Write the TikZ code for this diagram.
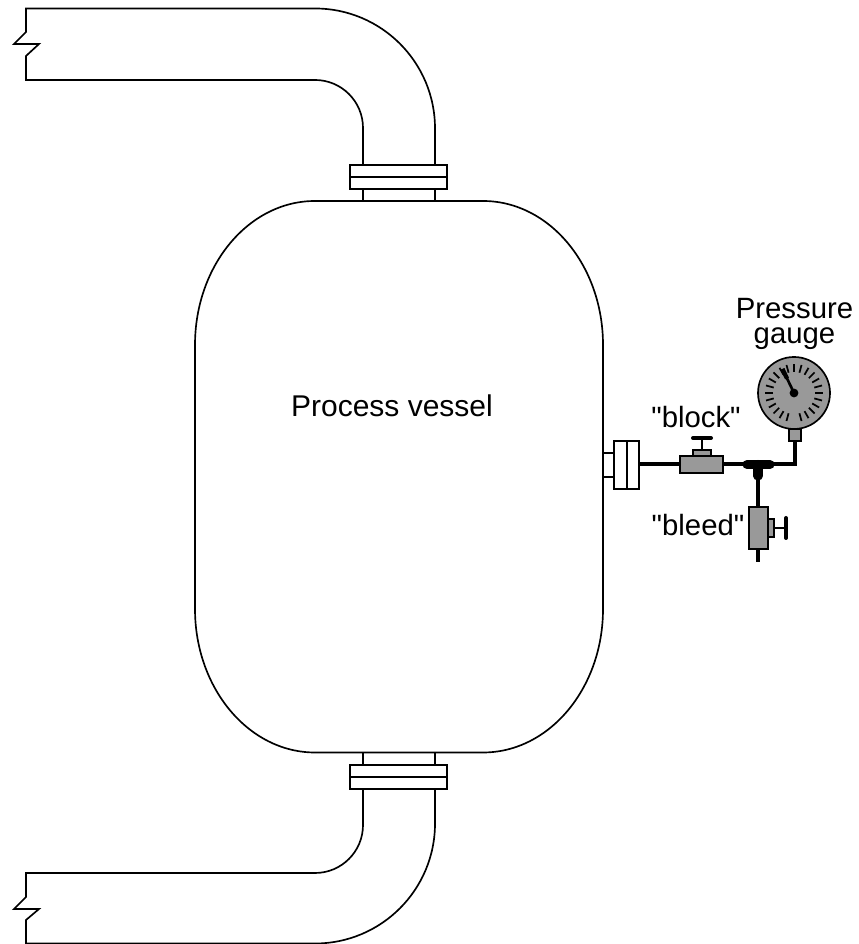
\documentclass[tikz,border=0pt]{standalone}
\usepackage{fontspec}
\newfontfamily\labelfont{Liberation Sans}
\tikzset{
  pipeline/.style={black,line width=1.25pt,line join=miter},
  tubing/.style={black,line width=3pt},
  valvepart/.style={draw=black,fill=black!40,line width=1.25pt},
  label/.style={font=\labelfont\fontsize{22}{18.75}\selectfont,inner sep=0pt},
}
\begin{document}
\begin{tikzpicture}[x=0.75pt,y=0.75pt]
      \useasboundingbox (0,0) rectangle (858,944);
      % vessel
      \draw[pipeline] (315,743)--(483,743) arc[start angle=90,end angle=0,x radius=120,y radius=144]
        --(603,335) arc[start angle=0,end angle=-90,x radius=120,y radius=143.5]
        --(315,191.5) arc[start angle=-90,end angle=-180,x radius=120,y radius=143.5]
        --(195,599) arc[start angle=180,end angle=90,x radius=120,y radius=144];
      % top pipe
      \draw[pipeline] (435,743)--(435,755);
      \draw[pipeline] (363,743)--(363,755);
      \draw[pipeline] (350,755) rectangle (447,779);
      \draw[pipeline,line width=1.8pt] (350,767)--(447,767);
      \draw[pipeline] (435,779)--(435,815.5) arc[start angle=0,end angle=90,radius=120]
        --(26,935.5)--(26,912)--(14,900)--(39,900)--(26,888)--(26,864)--(315,864)
        arc[start angle=90,end angle=0,radius=48]--(363,779);
      % bottom pipe
      \draw[pipeline] (435,191.5)--(435,179);
      \draw[pipeline] (363,191.5)--(363,179);
      \draw[pipeline] (350,155) rectangle (447,179);
      \draw[pipeline,line width=1.8pt] (350,167)--(447,167);
      \draw[pipeline] (435,155)--(435,120.5) arc[start angle=0,end angle=-90,radius=120]
        --(26,0.5)--(26,24)--(39,35)--(14,35)--(26,47)--(26,71)--(315,71)
        arc[start angle=-90,end angle=0,radius=48]--(363,155);
      % nozzle
      \draw[pipeline] (603,491)--(614,491);
      \draw[pipeline] (603,467)--(614,467);
      \draw[pipeline] (614,455) rectangle (639,503);
      \draw[pipeline] (627,455)--(627,503);
      % tubing
      \draw[tubing] (639,479.5)--(680,479.5);
      \draw[tubing] (723,479.5)--(745,479.5);
      \draw[tubing,line join=miter] (772,479.5)--(795,479.5)--(795,503);
      \draw[tubing] (758,466)--(758,437);
      \draw[tubing] (758,395)--(758,382);
      % tee
      \draw[black,line width=6.8pt,line cap=round] (747,479.5)--(770,479.5);
      \draw[black,line width=6.8pt,line cap=round] (758,479.5)--(758,468);
      % block valve
      \draw[valvepart] (680,471) rectangle (723,488);
      \draw[valvepart] (693,488) rectangle (711,494);
      \draw[black,line width=1.6pt] (702,494)--(702,506);
      \draw[tubing,line cap=round] (693,506)--(711,506);
      % bleed valve
      \draw[valvepart] (749,395) rectangle (768,437);
      \draw[valvepart] (768,407) rectangle (774,425);
      \draw[black,line width=1.6pt] (774,416)--(786,416);
      \draw[tubing,line cap=round] (786,406)--(786,426);
      % gauge
      \draw[valvepart] (794,551) circle (36);
      \draw[valvepart] (789,503) rectangle (801,515);
      \foreach \a in {-75,-60,...,255}
        \draw[black,line width=1.3pt] (794,551)++(\a:21)--++(\a:8);
      \draw[black,line width=2pt] (794,551)--(782.5,575);
      \draw[black,line width=3.2pt] (787,565.5)--(782.5,575);
      \fill[black] (794,551) circle (4.4);
      % labels
      \node[label,font=\labelfont\fontsize{22.5}{18.75}\selectfont,anchor=base] (vessel) at (392,527) {Process vessel};
      \node[label,anchor=base] (block) at (696,516) {"block"};
      \node[label,anchor=base] (bleed) at (698,408) {"bleed"};
      \node[label,align=center] (gaugelabel) at (794.5,620) {Pressure\\gauge};
    \end{tikzpicture}
\end{document}
